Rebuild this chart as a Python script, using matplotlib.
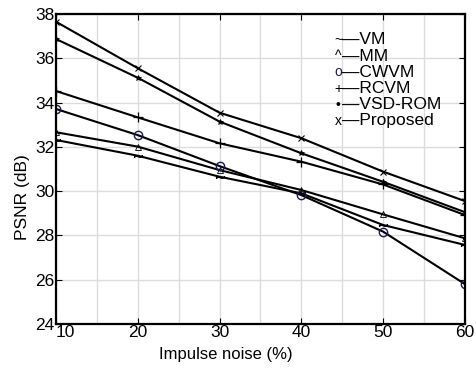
import matplotlib
matplotlib.use("Agg")
import matplotlib.pyplot as plt
from matplotlib.ticker import MultipleLocator

noise = [10, 20, 30, 40, 50, 60]
vm       = [32.31, 31.60, 30.65, 29.90, 28.47, 27.57]
mm       = [32.66, 32.01, 30.95, 30.05, 28.95, 27.87]
cwvm     = [33.71, 32.53, 31.13, 29.82, 28.17, 25.80]
rcvm     = [34.52, 33.33, 32.16, 31.33, 30.30, 28.92]
vsdrom   = [36.87, 35.12, 33.14, 31.71, 30.42, 29.05]
proposed = [37.65, 35.55, 33.54, 32.39, 30.88, 29.55]

xticks = [10, 20, 30, 40, 50, 60]
yticks = [24, 26, 28, 30, 32, 34, 36, 38]

plt.rcParams['font.family'] = ['Liberation Sans', 'DejaVu Sans']

fig = plt.figure(figsize=(4.77, 3.70), dpi=100)
ax = fig.add_axes([0.1174, 0.1243, 0.8574, 0.8379])

lw = 1.5
ax.plot(noise, vm, color='black', lw=lw, marker='$\\sim$', ms=6, mew=0.6)
ax.plot(noise, mm, color='black', lw=lw, marker='^', ms=4, mfc='none', mew=0.6)
ax.plot(noise, cwvm, color='black', lw=lw, marker='o', ms=6, mfc='none', mec='#1a1a50', mew=1.0)
ax.plot(noise, rcvm, color='black', lw=lw, marker='+', ms=7, mew=0.9)
ax.plot(noise, vsdrom, color='black', lw=lw, marker='*', ms=4, mew=0.5)
ax.plot(noise, proposed, color='black', lw=lw, marker='x', ms=5, mew=0.8)

ax.set_xlim(10, 60)
ax.set_ylim(24, 38)
ax.set_xticks(xticks)
ax.set_yticks(yticks)
ax.xaxis.set_minor_locator(MultipleLocator(5))
ax.grid(True, which='both', axis='x', color='#dcdcdc', lw=1.0)
ax.grid(True, which='major', axis='y', color='#dcdcdc', lw=1.0)
ax.set_axisbelow(True)
ax.tick_params(which='both', direction='in', top=True, right=True, labelsize=12.5, pad=1)
ax.tick_params(which='major', length=4)
ax.tick_params(which='minor', length=0)
for s in ax.spines.values():
    s.set_linewidth(1.6)
labels = ax.get_xticklabels()
labels[0].set_horizontalalignment('left')

fig.text(226 / 477, 1 - 355 / 370, 'Impulse noise (%)', fontsize=12, ha='center', va='center')
fig.text(23 / 477, 1 - 197 / 370, 'PSNR (dB)', fontsize=12.5, ha='center', va='center', rotation=90)

leg_markers = ['~', '^', 'o', '+', '\u2022', 'x']
leg_names = ['VM', 'MM', 'CWVM', 'RCVM', 'VSD-ROM', 'Proposed']
y0 = 40
for i, (m, n) in enumerate(zip(leg_markers, leg_names)):
    ypx = y0 + i * 16.2
    fy = 1 - ypx / 370
    col = '#1a1a50' if m == 'o' else 'black'
    fig.text(338 / 477, fy, m, fontsize=10, color=col, ha='center', va='center')
    fig.text(342 / 477, fy, '\u2014' + n, fontsize=12.5, color='black', ha='left', va='center')

fig.savefig('out.png', dpi=100, facecolor='white')
